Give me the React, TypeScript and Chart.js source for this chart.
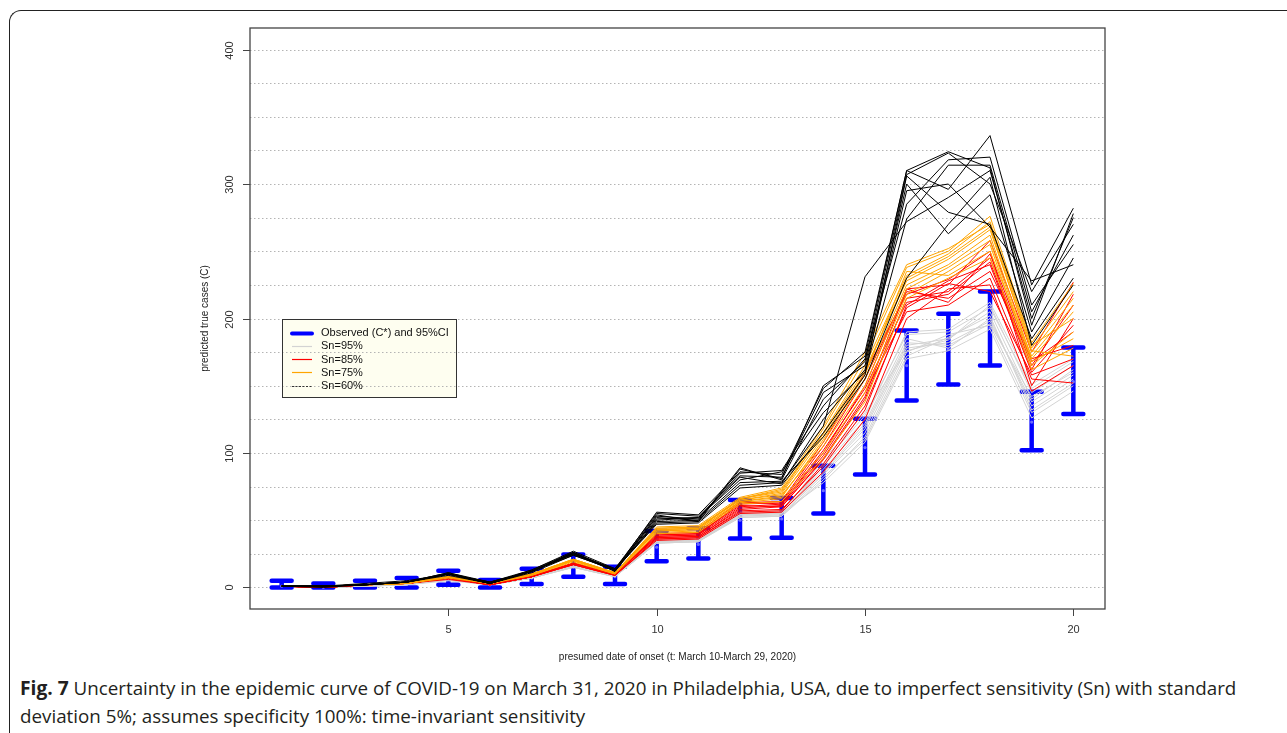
import React, { useEffect, useRef } from "react";
import { Chart, registerables } from "chart.js";

Chart.register(...registerables);

// ---------------- data ----------------
const days = [1, 2, 3, 4, 5, 6, 7, 8, 9, 10, 11, 12, 13, 14, 15, 16, 17, 18, 19, 20];

const observed = [1, 0, 2, 3, 6, 2, 7, 15, 8, 30, 32, 50, 51, 72, 104, 165, 177, 193, 123, 153];
const ciLower = [0, 0, 0, 0, 2, 0, 2.5, 8, 2.5, 19.5, 21.5, 36.5, 37, 55, 84, 139, 151, 165, 102, 129];
const ciUpper = [5, 3, 5, 7, 12.5, 5.5, 14, 24.5, 15.5, 42, 44, 65, 66.5, 90.5, 125.5, 191, 203.5, 220, 145.5, 178.5];

const sn95 = [
  [1, 0, 1, 2, 6, 2, 7, 16, 9, 34, 35, 54, 55, 90, 125, 190, 192, 212, 151, 170],
  [1, 0, 1, 3, 6, 2, 7, 16, 9, 33, 34, 53, 54, 85, 118, 180, 185, 205, 140, 162],
  [1, 0, 1, 2, 6, 2, 7, 15, 8, 35, 36, 55, 56, 88, 122, 185, 178, 200, 135, 155],
  [1, 0, 2, 3, 6, 2, 7, 16, 9, 34, 35, 52, 53, 80, 112, 175, 188, 195, 130, 150],
  [1, 0, 1, 2, 5, 2, 7, 15, 8, 33, 34, 54, 55, 78, 108, 170, 176, 192, 126, 146],
  [1, 0, 1, 2, 6, 2, 7, 16, 9, 36, 37, 56, 57, 92, 128, 188, 190, 208, 148, 168],
  [1, 0, 1, 3, 6, 2, 7, 16, 9, 34, 35, 53, 54, 84, 115, 178, 182, 198, 138, 158],
  [1, 0, 1, 2, 6, 2, 7, 15, 8, 33, 34, 52, 53, 82, 110, 172, 186, 202, 132, 152],
  [1, 0, 1, 2, 6, 2, 7, 16, 9, 35, 36, 55, 56, 86, 120, 182, 180, 196, 142, 160],
  [1, 0, 2, 2, 6, 2, 7, 16, 9, 34, 35, 54, 55, 95, 130, 176, 184, 210, 145, 165],
];

const sn85 = [
  [1, 0, 2, 3, 7, 2, 8, 18, 10, 38, 39, 60, 62, 100, 150, 222, 225, 258, 175, 227],
  [1, 0, 2, 3, 7, 3, 8, 18, 10, 37, 38, 58, 60, 95, 140, 215, 220, 245, 165, 210],
  [1, 0, 2, 3, 7, 2, 8, 17, 9, 36, 37, 57, 58, 90, 132, 210, 228, 240, 160, 195],
  [1, 0, 2, 3, 7, 2, 9, 18, 10, 39, 40, 62, 63, 105, 155, 220, 215, 235, 170, 180],
  [1, 0, 2, 3, 6, 2, 8, 17, 9, 35, 36, 55, 56, 86, 125, 200, 222, 225, 146, 165],
  [1, 0, 2, 3, 7, 2, 8, 18, 10, 38, 39, 63, 64, 108, 160, 218, 229, 250, 150, 200],
  [1, 0, 2, 3, 7, 3, 8, 18, 10, 37, 38, 59, 61, 98, 145, 205, 210, 230, 155, 152],
  [1, 0, 2, 3, 7, 2, 8, 18, 10, 40, 41, 64, 62, 102, 148, 212, 218, 242, 162, 218],
  [1, 0, 2, 3, 7, 2, 8, 17, 9, 36, 37, 56, 57, 92, 135, 208, 226, 220, 158, 170],
  [1, 0, 2, 3, 7, 2, 8, 18, 10, 39, 40, 61, 60, 96, 142, 222, 212, 248, 168, 190],
];

const sn75 = [
  [1, 1, 2, 3, 8, 3, 10, 20, 11, 44, 45, 66, 72, 118, 170, 238, 250, 276, 182, 226],
  [1, 1, 2, 4, 8, 3, 10, 21, 11, 43, 44, 65, 70, 112, 160, 230, 246, 268, 175, 215],
  [1, 1, 2, 3, 8, 3, 9, 20, 10, 42, 43, 64, 68, 108, 155, 225, 240, 262, 170, 205],
  [1, 1, 2, 3, 7, 3, 10, 20, 11, 45, 46, 67, 74, 120, 175, 240, 252, 270, 178, 220],
  [1, 1, 2, 4, 8, 3, 10, 21, 11, 41, 42, 63, 66, 100, 145, 218, 235, 255, 165, 190],
  [1, 1, 2, 3, 8, 3, 10, 20, 11, 43, 44, 66, 71, 115, 165, 232, 248, 272, 180, 200],
  [1, 1, 2, 3, 8, 3, 9, 19, 10, 40, 41, 62, 64, 96, 138, 215, 230, 245, 162, 178],
  [1, 1, 2, 3, 8, 3, 10, 20, 11, 44, 45, 65, 69, 105, 150, 222, 238, 258, 168, 185],
  [1, 1, 2, 3, 8, 3, 10, 20, 11, 42, 43, 64, 67, 110, 158, 235, 232, 250, 172, 210],
  [1, 1, 2, 4, 8, 3, 10, 21, 11, 43, 44, 66, 73, 114, 162, 228, 244, 266, 176, 172],
];

const sn60 = [
  [1, 1, 2, 4, 10, 3, 12, 25, 13, 56, 54, 86, 84, 148, 175, 310, 296, 336, 225, 282],
  [1, 0, 2, 4, 11, 4, 13, 27, 14, 52, 50, 89, 80, 140, 168, 307, 323, 300, 220, 270],
  [1, 1, 3, 5, 10, 3, 12, 26, 12, 50, 52, 80, 86, 130, 160, 274, 314, 314, 205, 262],
  [1, 1, 2, 4, 9, 3, 11, 24, 13, 48, 49, 76, 78, 120, 231, 272, 290, 310, 200, 275],
  [1, 1, 2, 4, 10, 4, 12, 25, 14, 55, 53, 83, 82, 145, 165, 300, 263, 292, 190, 245],
  [1, 1, 2, 4, 10, 3, 13, 26, 13, 47, 48, 74, 76, 115, 158, 306, 279, 270, 185, 230],
  [1, 1, 2, 4, 11, 3, 12, 25, 12, 53, 51, 85, 87, 135, 170, 285, 318, 320, 210, 255],
  [1, 1, 2, 4, 10, 3, 12, 24, 13, 49, 50, 78, 79, 112, 155, 230, 270, 305, 180, 225],
  [1, 1, 2, 4, 10, 3, 12, 25, 13, 51, 52, 82, 77, 125, 162, 295, 300, 268, 228, 240],
  [1, 1, 2, 4, 10, 4, 12, 26, 13, 54, 49, 88, 81, 150, 172, 310, 324, 312, 195, 278],
];

const xTicks = [5, 10, 15, 20];
const yTicks = [0, 100, 200, 300, 400];
const yGrid = [0, 25, 50, 75, 100, 125, 150, 175, 200, 225, 250, 275, 300, 325, 350, 375, 400];

const xTitle = "presumed date of onset (t: March 10-March 29, 2020)";
const yTitle = "predicted true cases (C)";
const legendLabels = ["Observed (C*) and 95%CI", "Sn=95%", "Sn=85%", "Sn=75%", "Sn=60%"];

// ---------------- styles ----------------
const BLUE = "#0000ff";
const GRAY = "#d3d3d3";
const RED = "#ff0000";
const ORANGE = "#ffa500";
const BLACK = "#000000";
const FONT = "'Liberation Sans', Arial, sans-serif";

function toPts(vals: number[]) {
  return days.map((d, i) => ({ x: d, y: vals[i] }));
}

const decorPlugin = {
  id: "decor",
  beforeDatasetsDraw(chart: any) {
    const { ctx, chartArea: ca, scales } = chart;
    const xs = scales.x;
    const ys = scales.y;
    ctx.save();
    // legend background
    const lx = ca.left + 32;
    const ly = ca.top + 291;
    ctx.fillStyle = "#fefef0";
    ctx.fillRect(lx, ly, 174, 78);
    // grid
    ctx.strokeStyle = "#b4b4b4";
    ctx.lineWidth = 1;
    ctx.setLineDash([1.5, 2.5]);
    for (const v of yGrid) {
      const y = Math.round(ys.getPixelForValue(v)) + 0.5;
      ctx.beginPath();
      ctx.moveTo(ca.left, y);
      ctx.lineTo(ca.right, y);
      ctx.stroke();
    }
    ctx.setLineDash([]);
    // error bars
    ctx.strokeStyle = BLUE;
    for (let i = 0; i < days.length; i++) {
      const x = xs.getPixelForValue(days[i]);
      const yl = ys.getPixelForValue(ciLower[i]);
      const yu = ys.getPixelForValue(ciUpper[i]);
      ctx.lineWidth = 4.5;
      ctx.lineCap = "butt";
      ctx.beginPath();
      ctx.moveTo(x, yl);
      ctx.lineTo(x, yu);
      ctx.stroke();
      ctx.lineCap = "round";
      ctx.lineWidth = 4.5;
      ctx.beginPath();
      ctx.moveTo(x - 10, yl);
      ctx.lineTo(x + 10, yl);
      ctx.moveTo(x - 10, yu);
      ctx.lineTo(x + 10, yu);
      ctx.stroke();
      // observed point
      const yo = ys.getPixelForValue(observed[i]);
      ctx.fillStyle = "#6a6aff";
      ctx.beginPath();
      ctx.arc(x, yo, 1.6, 0, Math.PI * 2);
      ctx.fill();
    }
    ctx.restore();
  },
  afterDraw(chart: any) {
    const { ctx, chartArea: ca, scales } = chart;
    const xs = scales.x;
    const ys = scales.y;
    ctx.save();
    // box
    ctx.strokeStyle = "#444";
    ctx.lineWidth = 1.3;
    ctx.strokeRect(ca.left, ca.top, ca.right - ca.left, ca.bottom - ca.top);
    // x ticks
    ctx.lineWidth = 1;
    ctx.fillStyle = "#333";
    ctx.font = `11px ${FONT}`;
    ctx.textAlign = "center";
    ctx.textBaseline = "middle";
    for (const v of xTicks) {
      const x = Math.round(xs.getPixelForValue(v)) + 0.5;
      ctx.beginPath();
      ctx.moveTo(x, ca.bottom);
      ctx.lineTo(x, ca.bottom + 7);
      ctx.stroke();
      ctx.fillText(String(v), x, ca.bottom + 21);
    }
    // y ticks
    for (const v of yTicks) {
      const y = Math.round(ys.getPixelForValue(v)) + 0.5;
      ctx.beginPath();
      ctx.moveTo(ca.left, y);
      ctx.lineTo(ca.left - 7, y);
      ctx.stroke();
      ctx.save();
      ctx.translate(ca.left - 20, y);
      ctx.rotate(-Math.PI / 2);
      ctx.fillText(String(v), 0, 0);
      ctx.restore();
    }
    // axis titles
    ctx.font = `10px ${FONT}`;
    ctx.fillStyle = "#222";
    ctx.fillText(xTitle, (ca.left + ca.right) / 2, ca.bottom + 48);
    ctx.save();
    ctx.translate(ca.left - 45, (ca.top + ca.bottom) / 2);
    ctx.rotate(-Math.PI / 2);
    ctx.fillText(yTitle, 0, 0);
    ctx.restore();
    // legend
    const lx = ca.left + 32;
    const ly = ca.top + 291;
    ctx.strokeStyle = "#333";
    ctx.lineWidth = 1;
    ctx.strokeRect(lx + 0.5, ly + 0.5, 174, 78);
    const colors = [BLUE, GRAY, RED, ORANGE, "#333"];
    ctx.font = `11px ${FONT}`;
    ctx.textAlign = "left";
    for (let i = 0; i < legendLabels.length; i++) {
      const y = ly + 13.5 + i * 13.3;
      ctx.strokeStyle = colors[i];
      ctx.lineWidth = i === 0 ? 4 : 1.2;
      ctx.lineCap = i === 0 ? "round" : "butt";
      ctx.setLineDash(i === 4 ? [2, 1.5] : []);
      ctx.beginPath();
      ctx.moveTo(lx + 10, Math.round(y) + 0.5);
      ctx.lineTo(lx + 30, Math.round(y) + 0.5);
      ctx.stroke();
      ctx.setLineDash([]);
      ctx.fillStyle = "#111";
      ctx.fillText(legendLabels[i], lx + 39, y + 0.5);
    }
    ctx.restore();
  },
};

export default function App() {
  const canvasRef = useRef<HTMLCanvasElement | null>(null);

  useEffect(() => {
    if (!canvasRef.current) return;
    const groups: { sets: number[][]; color: string; order: number; label: string }[] = [
      { sets: sn95, color: GRAY, order: 4, label: "Sn=95%" },
      { sets: sn85, color: RED, order: 3, label: "Sn=85%" },
      { sets: sn75, color: ORANGE, order: 2, label: "Sn=75%" },
      { sets: sn60, color: BLACK, order: 1, label: "Sn=60%" },
    ];
    const datasets: any[] = [];
    for (const g of groups) {
      g.sets.forEach((vals, k) => {
        datasets.push({
          label: `${g.label} #${k + 1}`,
          data: toPts(vals),
          borderColor: g.color,
          borderWidth: 1,
          pointRadius: 0,
          tension: 0,
          fill: false,
          order: g.order,
        });
      });
    }
    const chart = new Chart(canvasRef.current, {
      type: "line",
      data: { datasets },
      options: {
        animation: false,
        responsive: false,
        maintainAspectRatio: false,
        parsing: false as any,
        layout: { padding: { left: 250, right: 182, top: 28, bottom: 61 } },
        plugins: { legend: { display: false }, tooltip: { enabled: false } },
        scales: {
          x: { type: "linear", min: 0.24, max: 20.76, display: false },
          y: { type: "linear", min: -16, max: 416, display: false },
        },
      },
      plugins: [decorPlugin],
    });
    return () => chart.destroy();
  }, []);

  return (
    <div>
      <div
        style={{
          position: "absolute",
          left: 9,
          top: 10,
          width: 1278,
          height: 723,
          boxSizing: "border-box",
          borderTop: "1.5px solid #222",
          borderLeft: "1.5px solid #222",
          borderTopLeftRadius: 12,
        }}
      />
      <canvas
        ref={canvasRef}
        width={1287}
        height={670}
        style={{ position: "absolute", left: 0, top: 0, width: 1287, height: 670 }}
      />
      <div
        style={{
          position: "absolute",
          left: 20,
          top: 674,
          fontFamily: "'Open Sans', sans-serif",
          fontSize: 18.8,
          lineHeight: "28px",
          color: "#231f20",
          whiteSpace: "nowrap",
        }}
      >
        <div>
          <b style={{ fontSize: 19.2 }}>Fig. 7</b> Uncertainty in the epidemic curve of COVID-19 on March 31, 2020 in
          Philadelphia, USA, due to imperfect sensitivity (Sn) with standard
        </div>
        <div>deviation 5%; assumes specificity 100%: time-invariant sensitivity</div>
      </div>
    </div>
  );
}
